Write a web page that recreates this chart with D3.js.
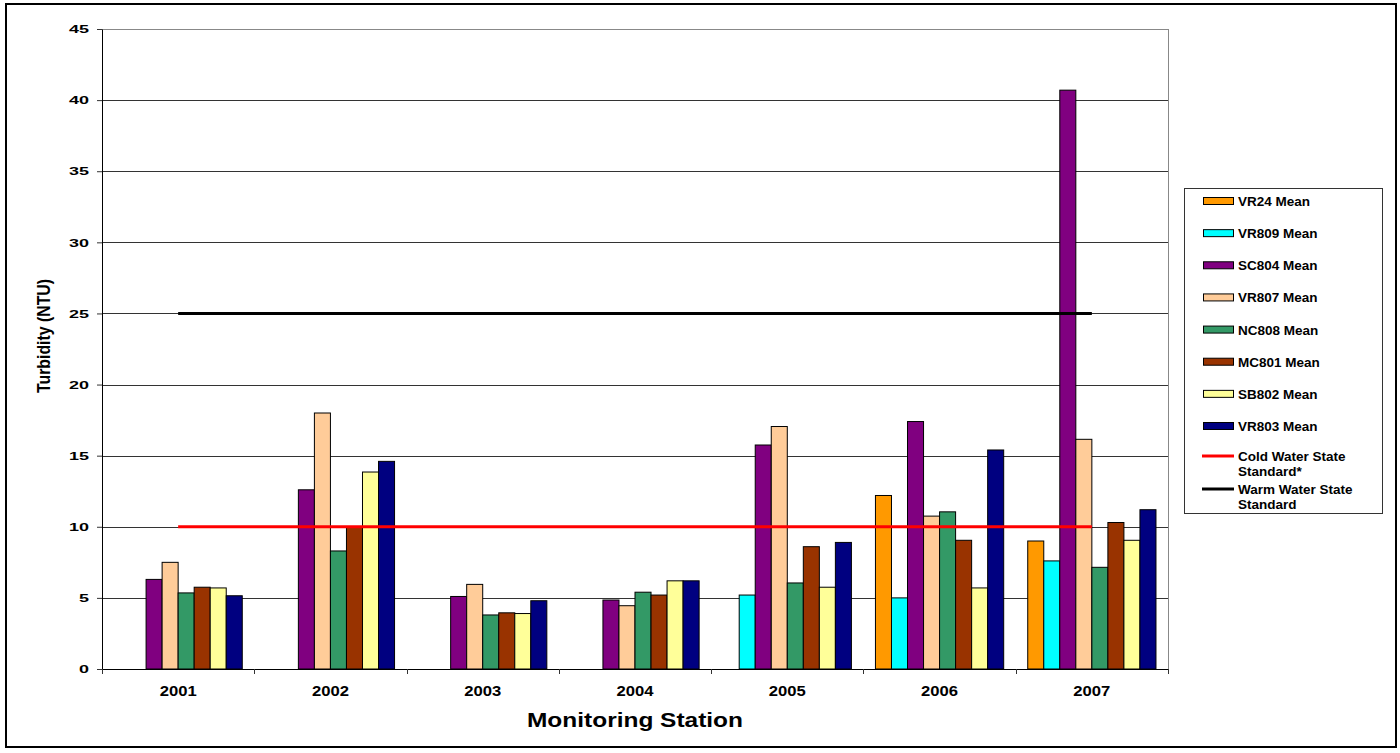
<!DOCTYPE html>
<html>
<head>
<meta charset="utf-8">
<script src="https://cdn.jsdelivr.net/npm/d3@7"></script>
<style>
  body { margin: 0; background: #fff; }
  svg { display: block; font-family: "Liberation Sans", Arial, sans-serif; font-weight: bold; }
</style>
</head>
<body>
<svg id="svg" width="1400" height="753"></svg>
<script>
// DATA //

const years = ["2001", "2002", "2003", "2004", "2005", "2006", "2007"];
const seriesNames = ["VR24 Mean", "VR809 Mean", "SC804 Mean", "VR807 Mean",
  "NC808 Mean", "MC801 Mean", "SB802 Mean", "VR803 Mean"];
const seriesColors = ["#ff9900", "#00ffff", "#800080", "#ffcc99",
  "#339966", "#993300", "#ffff99", "#000080"];

const vr24  = [null, null, null, null, null, 12.2, 9.0];
const vr809 = [null, null, null, null, 5.2, 5.0, 7.6];
const sc804 = [6.3, 12.6, 5.1, 4.85, 15.75, 17.4, 40.7];
const vr807 = [7.5, 18.0, 5.95, 4.45, 17.05, 10.75, 16.15];
const nc808 = [5.35, 8.3, 3.8, 5.4, 6.05, 11.05, 7.15];
const mc801 = [5.75, 10.0, 3.95, 5.2, 8.6, 9.05, 10.3];
const sb802 = [5.7, 13.85, 3.9, 6.2, 5.75, 5.7, 9.05];
const vr803 = [5.15, 14.6, 4.8, 6.2, 8.9, 15.4, 11.2];

const coldWater = [10, 10, 10, 10, 10, 10, 10];
const warmWater = [25, 25, 25, 25, 25, 25, 25];

const yTicks = [0, 5, 10, 15, 20, 25, 30, 35, 40, 45];

const seriesValues = [vr24, vr809, sc804, vr807, nc808, mc801, sb802, vr803];

// MAIN //

const svg = d3.select("#svg");

let plot = {left: 102, right: 1168, top: 29, bottom: 669};

let x0 = d3.scaleBand().domain(years).range([plot.left, plot.right]).padding(0);
let bw = x0.bandwidth();
let barW = bw / 9.5;   // Excel gap width 150%
let x1 = d3.scaleBand().domain(seriesNames).range([0.75 * barW, bw - 0.75 * barW]).padding(0);
let y = d3.scaleLinear().domain([0, 45]).range([plot.bottom, plot.top]);

// Outer border
svg.append("rect")
  .attr("x", 6).attr("y", 4)
  .attr("width", 1390).attr("height", 743)
  .attr("fill", "none")
  .attr("stroke", "#000")
  .attr("stroke-width", 2);

// Gridlines
svg.append("g")
  .selectAll("line")
  .data(yTicks.filter(d => d > 0))
  .enter()
  .append("line")
  .attr("x1", plot.left).attr("x2", plot.right)
  .attr("y1", d => Math.round(y(d)) + 0.5)
  .attr("y2", d => Math.round(y(d)) + 0.5)
  .attr("stroke", d => d === 45 ? "#888" : "#333")
  .attr("stroke-width", 1);

// Right border of plot area
svg.append("line")
  .attr("x1", plot.right + 0.5).attr("x2", plot.right + 0.5)
  .attr("y1", plot.top).attr("y2", plot.bottom)
  .attr("stroke", "#888");

// Bars
let table = [];
years.forEach((yr, i) => {
  seriesNames.forEach((s, j) => {
    if (seriesValues[j][i] != null) {
      table.push({year: yr, series: s, value: seriesValues[j][i], color: seriesColors[j]});
    }
  });
});

svg.append("g")
  .selectAll("rect")
  .data(table)
  .enter()
  .append("rect")
  .attr("x", d => x0(d.year) + x1(d.series))
  .attr("y", d => y(d.value))
  .attr("width", x1.bandwidth())
  .attr("height", d => y(0) - y(d.value))
  .attr("fill", d => d.color)
  .attr("stroke", "#000")
  .attr("stroke-width", 1);

// Standard lines
let line = d3.line()
  .x((d, i) => x0(years[i]) + bw / 2)
  .y(d => y(d));

svg.append("path")
  .attr("d", line(coldWater))
  .attr("fill", "none")
  .attr("stroke", "#ff0000")
  .attr("stroke-width", 3);

svg.append("path")
  .attr("d", line(warmWater))
  .attr("fill", "none")
  .attr("stroke", "#000")
  .attr("stroke-width", 3);

// Y axis
let yAxis = svg.append("g")
  .attr("transform", `translate(${plot.left},0)`)
  .call(d3.axisLeft(y).tickValues(yTicks).tickSize(5).tickPadding(8).tickSizeOuter(0));

yAxis.select(".domain").attr("stroke", "#000");
yAxis.selectAll(".tick line").attr("stroke", "#333");
yAxis.selectAll(".tick text")
  .attr("font-family", "Liberation Sans, Arial, sans-serif")
  .attr("font-weight", "bold")
  .attr("font-size", 11.5)
  .attr("fill", "#000")
  .attr("textLength", d => String(d).length * 10)
  .attr("lengthAdjust", "spacingAndGlyphs");

// X axis
svg.append("line")
  .attr("x1", plot.left).attr("x2", plot.right)
  .attr("y1", plot.bottom + 0.5).attr("y2", plot.bottom + 0.5)
  .attr("stroke", "#000");

let bounds = years.map(d => x0(d)).concat([plot.right]);
svg.append("g")
  .selectAll("line")
  .data(bounds)
  .enter()
  .append("line")
  .attr("x1", d => Math.round(d) + 0.5).attr("x2", d => Math.round(d) + 0.5)
  .attr("y1", plot.bottom).attr("y2", plot.bottom + 5)
  .attr("stroke", "#333");

svg.append("g")
  .selectAll("text")
  .data(years)
  .enter()
  .append("text")
  .attr("x", d => x0(d) + bw / 2)
  .attr("y", 696)
  .attr("text-anchor", "middle")
  .attr("font-size", 15)
  .attr("textLength", 37)
  .attr("lengthAdjust", "spacingAndGlyphs")
  .text(d => d);

// Axis titles
svg.append("text")
  .attr("x", (plot.left + plot.right) / 2)
  .attr("y", 727)
  .attr("text-anchor", "middle")
  .attr("font-size", 19.5)
  .attr("textLength", 216)
  .attr("lengthAdjust", "spacingAndGlyphs")
  .text("Monitoring Station");

svg.append("text")
  .attr("transform", "translate(50,336) rotate(-90)")
  .attr("text-anchor", "middle")
  .attr("font-size", 18)
  .attr("textLength", 114)
  .attr("lengthAdjust", "spacingAndGlyphs")
  .text("Turbidity (NTU)");

// Legend
let legend = svg.append("g").attr("class", "legend");

legend.append("rect")
  .attr("x", 1184.5).attr("y", 188.5)
  .attr("width", 198).attr("height", 325)
  .attr("fill", "#fff")
  .attr("stroke", "#333")
  .attr("stroke-width", 1);

let legendY = d3.scalePoint().domain(seriesNames).range([201, 426]);

seriesNames.forEach((s, j) => {
  legend.append("rect")
    .attr("x", 1203.5).attr("y", legendY(s) - 3.5)
    .attr("width", 30).attr("height", 7)
    .attr("fill", seriesColors[j])
    .attr("stroke", "#000");
  legend.append("text")
    .attr("x", 1238).attr("y", legendY(s) + 5)
    .attr("font-size", 13.5)
    .text(s);
});

let lineItems = [
  {lines: ["Cold Water State", "Standard*"], color: "#ff0000", y: 456},
  {lines: ["Warm Water State", "Standard"], color: "#000", y: 489}
];

lineItems.forEach(item => {
  legend.append("line")
    .attr("x1", 1202).attr("x2", 1234)
    .attr("y1", item.y).attr("y2", item.y)
    .attr("stroke", item.color)
    .attr("stroke-width", 3);
  legend.append("text")
    .attr("x", 1238).attr("y", item.y + 5)
    .attr("font-size", 13.5)
    .selectAll("tspan")
    .data(item.lines)
    .enter()
    .append("tspan")
    .attr("x", 1238)
    .attr("dy", (d, i) => i === 0 ? 0 : 15)
    .text(d => d);
});
</script>
</body>
</html>
